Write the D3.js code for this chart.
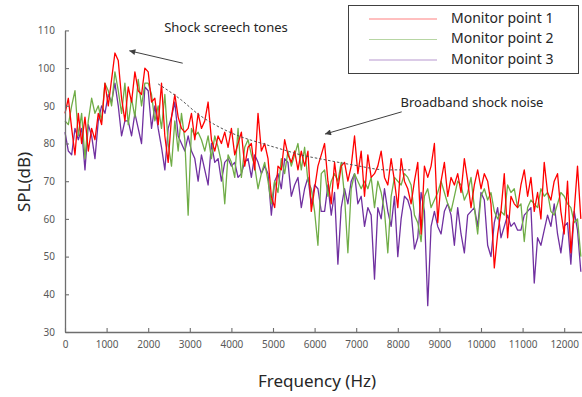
<!DOCTYPE html>
<html>
<head>
<meta charset="utf-8">
<script src="https://cdn.jsdelivr.net/npm/d3@7"></script>
<style>
  body { margin: 0; background: #fff; }
  svg { display: block; font-family: "Noto Sans", "Open Sans", sans-serif; }
</style>
</head>
<body>
<svg id="chart" width="582" height="397"></svg>
<script>
// Narrow-band spectrum, one bin every 80 Hz starting at 0 Hz
const binWidth = 80;

// SPL (dB) per bin for each monitor point
const splPoint1 = [
  88,92,84,77,88,80,87,78,84,81,88,85,96,90,97,104,102,92,86,95,91,99,94,93,100,99,
  91,92,85,96,82,75,87,93,87,84,83,84,88,81,88,84,86,91,81,78,82,80,83,79,84,77,80,
  83,74,79,80,73,88,78,80,76,66,63,74,73,81,77,75,78,73,78,74,78,62,68,74,77,
  80,70,64,75,68,74,75,70,74,82,72,78,66,77,71,72,74,78,71,69,76,70,63,76,
  70,68,64,70,75,56,74,71,74,80,59,70,75,66,71,69,72,67,76,70,63,69,73,68,72,70,64,47,
  56,62,72,55,66,64,63,69,73,66,71,62,67,60,75,67,65,70,72,62,56,70,51,62,74,60
];
const splPoint2 = [
  86,85,90,94,82,88,76,86,92,88,90,86,96,94,90,99,94,88,96,85,92,87,97,90,96,96,
  93,86,90,84,93,80,74,86,78,88,81,61,84,82,83,81,78,82,76,82,79,75,64,77,75,71,84,
  71,79,81,77,74,68,72,75,70,64,70,67,76,72,78,74,77,80,73,79,70,68,62,53,72,
  73,66,70,72,70,75,66,51,68,72,70,68,70,68,71,63,70,67,62,51,66,71,70,69,
  72,71,69,61,59,54,66,68,63,65,67,70,67,64,62,66,70,69,65,67,71,63,56,66,68,65,67,62,
  60,62,61,69,67,68,63,64,54,63,65,64,63,68,66,67,62,61,64,67,66,64,63,59,60,50
];
const splPoint3 = [
  83,78,77,84,81,84,73,85,82,76,86,90,88,93,91,96,90,82,86,86,82,88,84,80,95,94,
  84,90,84,79,73,84,87,91,82,80,78,82,78,76,70,77,73,69,80,75,76,70,75,76,74,75,71,
  72,75,76,71,77,75,72,74,72,61,70,72,68,76,75,66,69,71,63,68,71,64,69,68,62,
  62,69,61,67,48,63,68,64,70,72,64,66,58,63,61,44,63,60,68,62,58,66,50,60,
  66,65,62,52,55,67,62,37,58,62,58,56,62,64,61,53,63,56,51,61,62,63,58,67,65,53,50,59,
  63,55,58,61,58,59,57,57,61,62,63,43,55,53,57,61,58,64,56,51,58,59,48,62,57,46
];

const seriesNames = ["Monitor point 1", "Monitor point 2", "Monitor point 3"];
const seriesColors = ["#ff0000", "#70ad47", "#7030a0"];

const xTickValues = [0,1000,2000,3000,4000,5000,6000,7000,8000,9000,10000,11000,12000];
const yTickValues = [30,40,50,60,70,80,90,100,110];

// Broadband shock-noise envelope (dashed guide)
const envelopeFreq = [2240, 2800, 3200, 3600, 4000, 4860, 5260, 5660, 6200, 6930, 7730, 8300];
const envelopeDb   = [95.8, 91.5, 87.8, 85.0, 82.8, 79.6, 78.3, 77.0, 75.8, 74.3, 73.0, 73.0];

// Callouts: label, label position, arrow tail and head in data units
const callouts = [
  { text: "Shock screech tones", lx: 226, ly: 29, from: [2830, 101.3], to: [1546, 104.6] },
  { text: "Broadband shock noise", lx: 472, ly: 104, from: [8094, 88.4], to: [6250, 82.5] }
];

const frequencies = splPoint1.map((_, i) => i * binWidth);
const series = [splPoint1, splPoint2, splPoint3].map((vals, k) => ({
  name: seriesNames[k],
  color: seriesColors[k],
  points: vals.map((v, i) => ({ f: frequencies[i], db: v }))
}));

const svg = d3.select("#chart");
const x = d3.scaleLinear().domain([0, 12428]).range([65, 582]);
const y = d3.scaleLinear().domain([30, 110]).range([332, 30.4]);

const axisColor = "#6e6e6e";
const labelColor = "#595959";

// Spectra: point 3 underneath, point 1 on top
const line = d3.line().x(d => x(d.f)).y(d => y(d.db));
svg.append("g").selectAll("path")
  .data(series.slice().reverse())
  .join("path")
  .attr("d", d => line(d.points))
  .attr("fill", "none")
  .attr("stroke", d => d.color)
  .attr("stroke-width", 1.3)
  .attr("stroke-linejoin", "round");

// Dashed envelope
const envLine = d3.line().curve(d3.curveMonotoneX).x(d => x(d[0])).y(d => y(d[1]));
svg.append("path")
  .attr("d", envLine(envelopeFreq.map((f, i) => [f, envelopeDb[i]])))
  .attr("fill", "none")
  .attr("stroke", "#505050")
  .attr("stroke-width", 1)
  .attr("stroke-dasharray", "2.5,2");

// Axes with inward ticks
const xAxis = svg.append("g")
  .attr("transform", `translate(0,${y(30)})`)
  .call(d3.axisBottom(x).tickValues(xTickValues).tickSize(-4).tickSizeOuter(0).tickPadding(9).tickFormat(d3.format("d")));
const yAxis = svg.append("g")
  .attr("transform", `translate(${x(0)},0)`)
  .call(d3.axisLeft(y).tickValues(yTickValues).tickSize(-4).tickSizeOuter(0).tickPadding(10).tickFormat(d3.format("d")));

[xAxis, yAxis].forEach(g => {
  g.select(".domain").attr("stroke", axisColor).attr("stroke-width", 1.3);
  g.selectAll(".tick line").attr("stroke", axisColor).attr("stroke-width", 1.1);
  g.selectAll(".tick text")
    .attr("fill", labelColor)
    .style("font-size", "10px")
    .style("font-family", '"Noto Sans", sans-serif');
});

// Axis titles
svg.append("text")
  .attr("x", 317).attr("y", 382)
  .attr("text-anchor", "middle").attr("dominant-baseline", "middle")
  .attr("fill", "#262626").style("font-size", "17px")
  .text("Frequency (Hz)");
svg.append("text")
  .attr("transform", "translate(25,182) rotate(-90)")
  .attr("text-anchor", "middle").attr("dominant-baseline", "middle")
  .attr("fill", "#262626").style("font-size", "17px")
  .text("SPL(dB)");

// Callout arrows and labels
const defs = svg.append("defs");
defs.append("marker")
  .attr("id", "arrowHead")
  .attr("viewBox", "0 0 10 10")
  .attr("refX", 10).attr("refY", 5)
  .attr("markerWidth", 9).attr("markerHeight", 6)
  .attr("markerUnits", "userSpaceOnUse")
  .attr("orient", "auto")
  .append("path").attr("d", "M0,0 L10,5 L0,10 Z").attr("fill", "#404040");

const callG = svg.append("g");
callouts.forEach(c => {
  callG.append("line")
    .attr("x1", x(c.from[0])).attr("y1", y(c.from[1]))
    .attr("x2", x(c.to[0])).attr("y2", y(c.to[1]))
    .attr("stroke", "#404040").attr("stroke-width", 1)
    .attr("marker-end", "url(#arrowHead)");
  callG.append("text")
    .attr("x", c.lx).attr("y", c.ly)
    .attr("text-anchor", "middle").attr("dominant-baseline", "middle")
    .attr("fill", "#262626").style("font-size", "13px")
    .text(c.text);
});

// Legend
const legend = svg.append("g");
legend.append("rect")
  .attr("x", 348.5).attr("y", 5.5).attr("width", 230).attr("height", 68)
  .attr("fill", "#fff").attr("stroke", "#404040").attr("stroke-width", 1);
const rowY = [19, 39.5, 60];
series.forEach((s, i) => {
  legend.append("line")
    .attr("x1", 369).attr("x2", 437)
    .attr("y1", rowY[i]).attr("y2", rowY[i])
    .attr("stroke", s.color).attr("stroke-width", 1.2).attr("stroke-opacity", 0.5);
  legend.append("text")
    .attr("x", 451).attr("y", rowY[i])
    .attr("dominant-baseline", "middle")
    .attr("fill", "#262626").style("font-size", "14px")
    .text(s.name);
});
</script>
</body>
</html>
